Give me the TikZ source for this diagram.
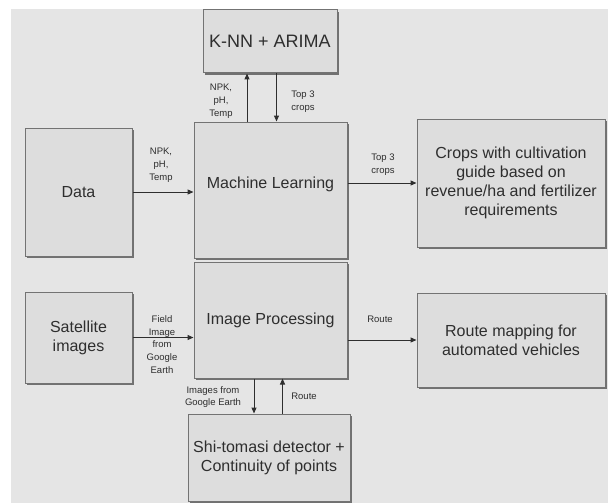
\documentclass[tikz,border=0pt]{standalone}
\usepackage{fontspec}
\setmainfont{Liberation Sans}
\usepackage{tikz}
\usetikzlibrary{arrows.meta,shadows}

\definecolor{bgcol}{gray}{0.9}
\definecolor{boxfill}{gray}{0.865}
\definecolor{boxline}{gray}{0.45}
\definecolor{inkcol}{gray}{0.18}

\begin{document}
\begin{tikzpicture}[x=1pt,y=-1pt,
  box/.style={draw=boxline,fill=boxfill,line width=1pt,inner sep=2pt,align=center,
    text=inkcol,font=\fontsize{16}{19}\selectfont,
    drop shadow={shadow xshift=1.5pt,shadow yshift=-1.7pt,fill=black!75,opacity=0.7}},
  lbl/.style={inner sep=0pt,align=center,text=inkcol,font=\fontsize{9.5}{12.8}\selectfont},
  flow/.style={draw=inkcol,line width=1pt,-{Triangle[length=6pt,width=5pt]}}]
\useasboundingbox (0,0) rectangle (608,503);
\fill[bgcol] (11,9) rectangle (608,503);
% boxes
\node[box,minimum width=134pt,minimum height=63pt,font=\fontsize{18}{21}\selectfont] (knn) at (270,41.5) {K-NN + ARIMA};
\node[box,minimum width=153pt,minimum height=136pt,text depth=14pt] (ml) at (270.5,190) {Machine Learning};
\node[box,minimum width=153pt,minimum height=116pt] (ip) at (270.5,320) {Image Processing};
\node[box,minimum width=107pt,minimum height=128pt] (data) at (78.5,192) {Data};
\node[box,minimum width=107pt,minimum height=91pt] (sat) at (78.5,337.5) {Satellite\\images};
\node[box,minimum width=188pt,minimum height=128pt] (crops) at (511,183) {Crops with cultivation\\guide based on\\revenue/ha and fertilizer\\requirements};
\node[box,minimum width=188pt,minimum height=94pt] (route) at (511,340) {Route mapping for\\automated vehicles};
\node[box,minimum width=162pt,minimum height=87pt] (shi) at (269,457.5) {Shi-tomasi detector +\\Continuity of points};
% connectors
\draw[flow] (data.east) -- (data.east -| ml.west);
\draw[flow] (crops.west -| ml.east) -- (crops.west);
\draw[flow] (sat.east) -- (sat.east -| ip.west);
\draw[flow] (route.west -| ip.east) -- (route.west);
\draw[flow] ([xshift=-23.5pt]ml.north) -- ([xshift=-23.5pt]ml.north |- knn.south);
\draw[flow] ([xshift=6.5pt]knn.south) -- ([xshift=6.5pt]knn.south |- ml.north);
\draw[flow] ([xshift=-16.5pt]ip.south) -- ([xshift=-16.5pt]ip.south |- shi.north);
\draw[flow] ([xshift=13.5pt]shi.north) -- ([xshift=13.5pt]shi.north |- ip.south);
% labels
\node[lbl] (upin) at (221,101) {NPK,\\pH,\\Temp};
\node[lbl] (upout) at (303,101.5) {Top 3\\crops};
\node[lbl] (datain) at (161,165.5) {NPK,\\pH,\\Temp};
\node[lbl] (cropsout) at (383,165) {Top 3\\crops};
\node[lbl] (satin) at (162,344.5) {Field\\Image\\from\\Google\\Earth};
\node[lbl] (routeout) at (380,319.5) {Route};
\node[lbl] (shiin) at (213,397) {Images from\\Google Earth};
\node[lbl] (shiout) at (304,396) {Route};
\end{tikzpicture}
\end{document}
